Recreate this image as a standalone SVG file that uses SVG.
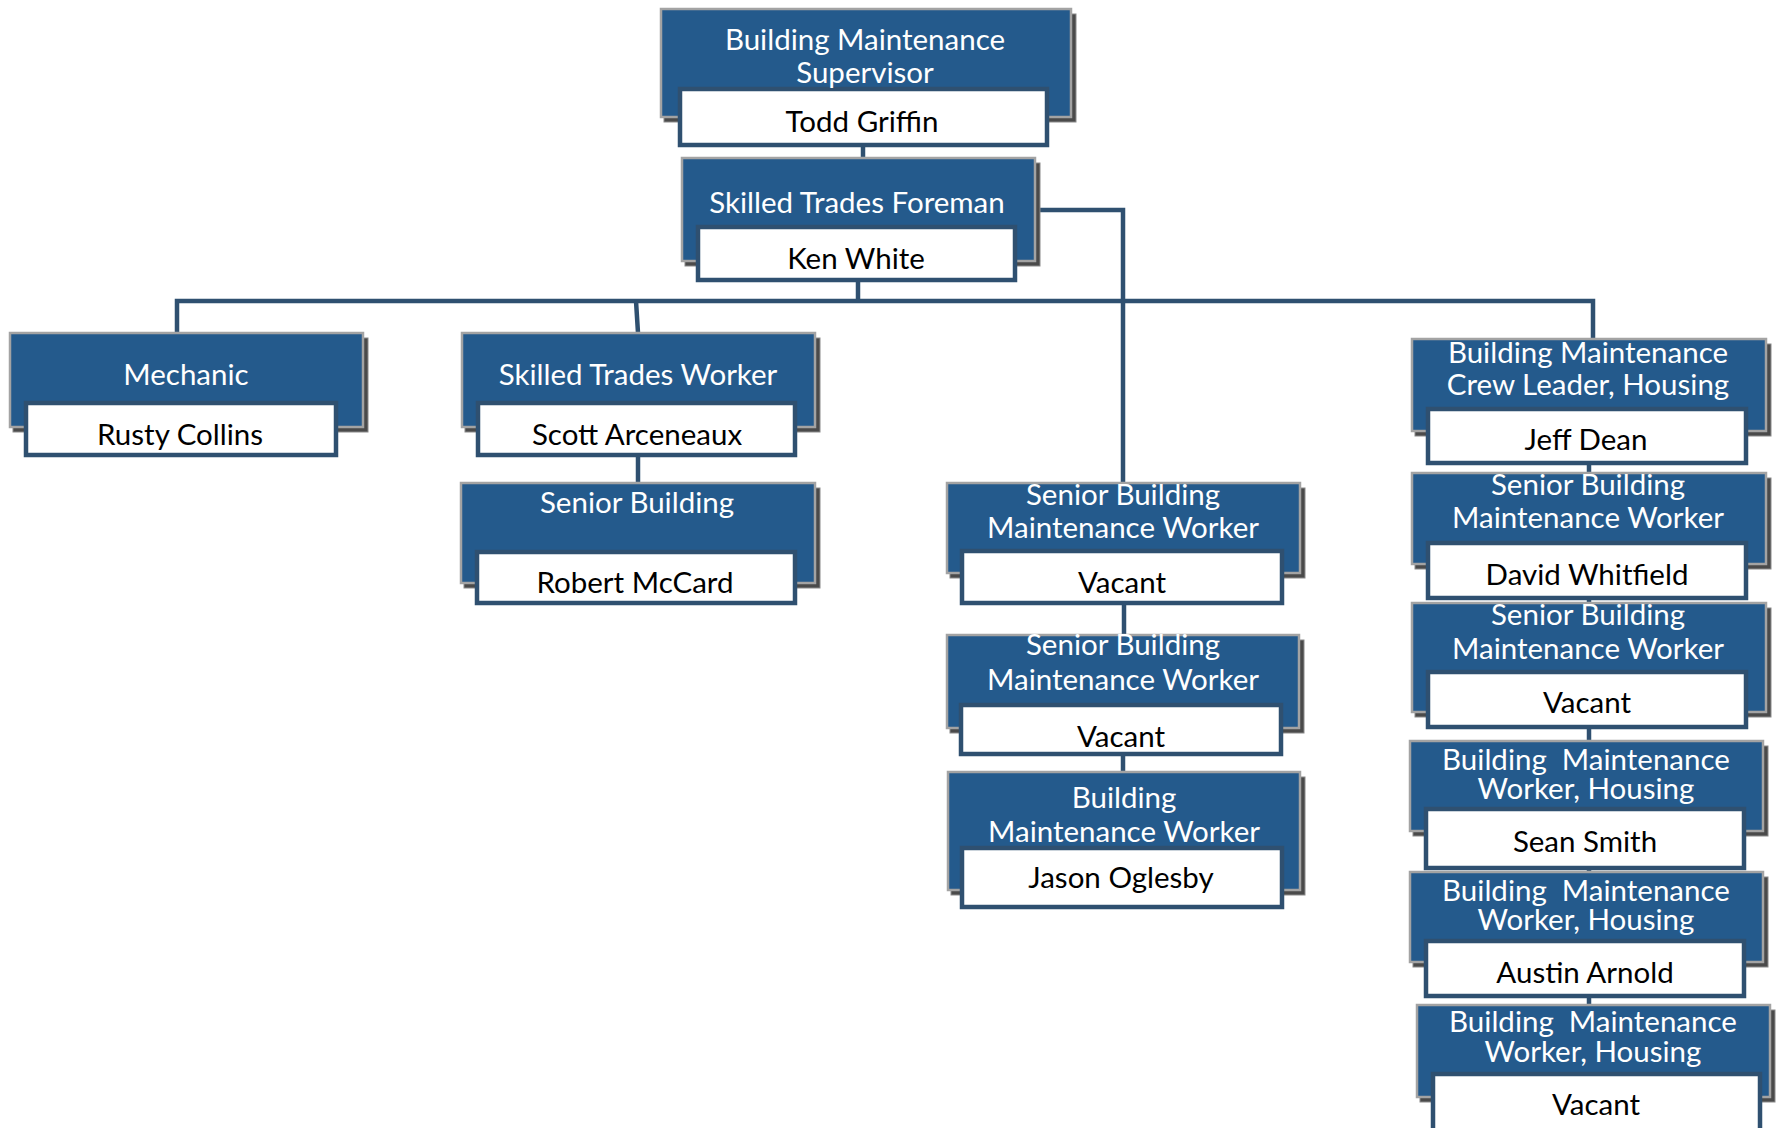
<svg xmlns="http://www.w3.org/2000/svg" width="1777" height="1128" viewBox="0 0 1777 1128">
<style>
.sh{fill:#4a4a4a;stroke:#8a8a8a;stroke-width:1}
.bx{fill:#245a8c;stroke:#a3a3a3;stroke-width:2.5}
.wb{fill:#ffffff;stroke:#2f5070;stroke-width:4.5}
.t{font-family:Lato,"Open Sans",sans-serif;font-size:29.5px;fill:#ffffff;text-anchor:middle}
.n{font-family:Lato,"Open Sans",sans-serif;font-size:29.5px;fill:#000000;text-anchor:middle}
.c{fill:none;stroke:#2f5070;stroke-width:4.5}
</style>
<rect width="1777" height="1128" fill="#ffffff"/>
<g id="connectors">
<path class="c" d="M863,145 V158"/>
<path class="c" d="M858,280 V301"/>
<path class="c" d="M177,333 V301 H1593 V339"/>
<path class="c" d="M636,301 L638,333"/>
<path class="c" d="M1035,210 H1123 V483"/>
<path class="c" d="M638,455 V483"/>
<path class="c" d="M1124,603 V635"/>
<path class="c" d="M1123,754 V772"/>
<path class="c" d="M1589,463 V473"/>
<path class="c" d="M1589,598 V603"/>
<path class="c" d="M1589,727 V741"/>
<path class="c" d="M1589,868 V872"/>
<path class="c" d="M1589,996 V1005"/>
</g>
<g id="n1">
<rect class="sh" x="664" y="14" width="412" height="108"/>
<rect class="bx" x="661" y="9" width="410" height="108"/>
<rect class="wb" x="680" y="89" width="367" height="56"/>
<text class="t" x="865" y="50">Building Maintenance</text>
<text class="t" x="865" y="83">Supervisor</text>
<text class="n" x="862" y="132">Todd Griffin</text>
</g>
<g id="n2">
<rect class="sh" x="685" y="163" width="355" height="103"/>
<rect class="bx" x="682" y="158" width="353" height="103"/>
<rect class="wb" x="698" y="227" width="317" height="53"/>
<text class="t" x="857" y="213">Skilled Trades Foreman</text>
<text class="n" x="856" y="269">Ken White</text>
</g>
<g id="n3">
<rect class="sh" x="13" y="338" width="355" height="94"/>
<rect class="bx" x="10" y="333" width="353" height="94"/>
<rect class="wb" x="26" y="403" width="310" height="52"/>
<text class="t" x="186" y="385">Mechanic</text>
<text class="n" x="180" y="445">Rusty Collins</text>
</g>
<g id="n4">
<rect class="sh" x="465" y="338" width="355" height="94"/>
<rect class="bx" x="462" y="333" width="353" height="94"/>
<rect class="wb" x="478" y="403" width="317" height="52"/>
<text class="t" x="638" y="385">Skilled Trades Worker</text>
<text class="n" x="637" y="445">Scott Arceneaux</text>
</g>
<g id="n5">
<rect class="sh" x="464" y="488" width="356" height="100"/>
<rect class="bx" x="461" y="483" width="354" height="100"/>
<rect class="wb" x="477" y="552" width="318" height="51"/>
<text class="t" x="637" y="513">Senior Building</text>
<text class="n" x="635" y="593">Robert McCard</text>
</g>
<g id="n6">
<rect class="sh" x="950" y="488" width="355" height="90"/>
<rect class="bx" x="947" y="483" width="353" height="90"/>
<rect class="wb" x="962" y="551" width="320" height="52"/>
<text class="t" x="1123" y="505">Senior Building</text>
<text class="t" x="1123" y="538">Maintenance Worker</text>
<text class="n" x="1122" y="593">Vacant</text>
</g>
<g id="n7">
<rect class="sh" x="950" y="640" width="354" height="93"/>
<rect class="bx" x="947" y="635" width="352" height="93"/>
<rect class="wb" x="961" y="705" width="320" height="49"/>
<text class="t" x="1123" y="655">Senior Building</text>
<text class="t" x="1123" y="690">Maintenance Worker</text>
<text class="n" x="1121" y="747">Vacant</text>
</g>
<g id="n8">
<rect class="sh" x="951" y="777" width="354" height="118"/>
<rect class="bx" x="948" y="772" width="352" height="118"/>
<rect class="wb" x="962" y="848" width="320" height="59"/>
<text class="t" x="1124" y="808">Building</text>
<text class="t" x="1124" y="842">Maintenance Worker</text>
<text class="n" x="1121" y="888">Jason Oglesby</text>
</g>
<g id="n9">
<rect class="sh" x="1415" y="344" width="356" height="92"/>
<rect class="bx" x="1412" y="339" width="354" height="92"/>
<rect class="wb" x="1428" y="409" width="318" height="54"/>
<text class="t" x="1588" y="363">Building Maintenance</text>
<text class="t" x="1588" y="395">Crew Leader, Housing</text>
<text class="n" x="1586" y="450">Jeff Dean</text>
</g>
<g id="n10">
<rect class="sh" x="1415" y="478" width="356" height="91"/>
<rect class="bx" x="1412" y="473" width="354" height="91"/>
<rect class="wb" x="1428" y="543" width="318" height="55"/>
<text class="t" x="1588" y="495">Senior Building</text>
<text class="t" x="1588" y="528">Maintenance Worker</text>
<text class="n" x="1587" y="585">David Whitfield</text>
</g>
<g id="n11">
<rect class="sh" x="1415" y="608" width="356" height="109"/>
<rect class="bx" x="1412" y="603" width="354" height="109"/>
<rect class="wb" x="1428" y="672" width="318" height="55"/>
<text class="t" x="1588" y="625">Senior Building</text>
<text class="t" x="1588" y="659">Maintenance Worker</text>
<text class="n" x="1587" y="713">Vacant</text>
</g>
<g id="n12">
<rect class="sh" x="1413" y="746" width="355" height="90"/>
<rect class="bx" x="1410" y="741" width="353" height="90"/>
<rect class="wb" x="1426" y="809" width="318" height="59"/>
<text class="t" x="1586" y="770" xml:space="preserve">Building  Maintenance</text>
<text class="t" x="1586" y="799">Worker, Housing</text>
<text class="n" x="1585" y="852">Sean Smith</text>
</g>
<g id="n13">
<rect class="sh" x="1413" y="877" width="355" height="90"/>
<rect class="bx" x="1410" y="872" width="353" height="90"/>
<rect class="wb" x="1426" y="941" width="318" height="55"/>
<text class="t" x="1586" y="901" xml:space="preserve">Building  Maintenance</text>
<text class="t" x="1586" y="930">Worker, Housing</text>
<text class="n" x="1585" y="983">Austin Arnold</text>
</g>
<g id="n14">
<rect class="sh" x="1420" y="1010" width="355" height="92"/>
<rect class="bx" x="1417" y="1005" width="353" height="92"/>
<rect class="wb" x="1433" y="1074" width="327" height="61"/>
<text class="t" x="1593" y="1032" xml:space="preserve">Building  Maintenance</text>
<text class="t" x="1593" y="1062">Worker, Housing</text>
<text class="n" x="1596" y="1115">Vacant</text>
</g>
</svg>
